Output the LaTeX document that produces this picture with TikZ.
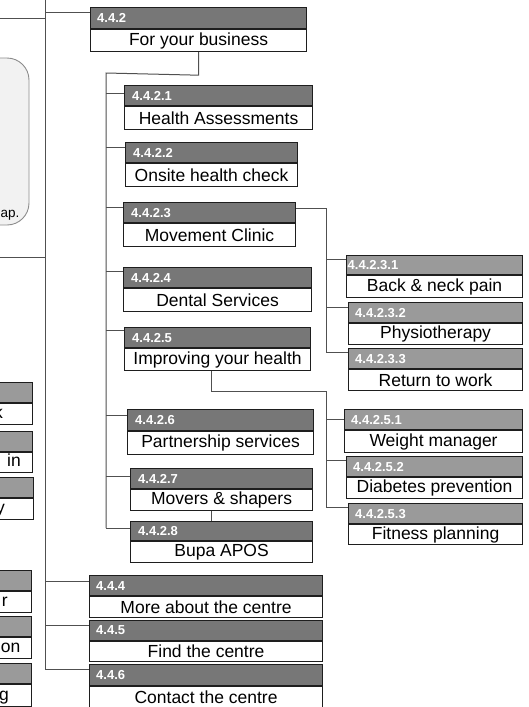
\documentclass[tikz,border=0pt]{standalone}
\usepackage{fontspec}
\setmainfont{Liberation Sans}
\definecolor{hdrA}{HTML}{777777}
\definecolor{hdrB}{HTML}{9A9A9A}
\definecolor{lnc}{HTML}{505050}
\definecolor{bdc}{HTML}{1E1E1E}
\definecolor{notefill}{HTML}{F2F2F2}
\definecolor{notedraw}{HTML}{8C8C8C}
\newcommand\tbox[9]{%
  \node[hdr, fill=#8, minimum width=#3pt, minimum height=#4pt] (#1h) at #2 {};
  \node[lbl] (#1l) at ([xshift=#9pt]#1h.west) {#6};
  \node[body, minimum width=#3pt, minimum height=#5pt] (#1) at (#1h.south west) {#7};
}
\begin{document}
\begin{tikzpicture}[x=1pt,y=-1pt,
  hdr/.style={draw=bdc, line width=1.1pt, inner sep=0pt, anchor=north west},
  body/.style={draw=bdc, fill=white, line width=1.1pt, inner sep=0pt, anchor=north west,
    font=\fontsize{17.5}{18}\selectfont},
  lbl/.style={text=white, font=\bfseries\fontsize{13}{13}\selectfont, anchor=west, inner sep=0pt},
  frag/.style={font=\fontsize{17.5}{18}\selectfont, anchor=base east, inner sep=0pt},
  conn/.style={draw=lnc, line width=1pt}]
\useasboundingbox (0,0) rectangle (528,707);
\clip (0,0) rectangle (528,707);

% ---------- left, cut-off part ----------
\draw[draw=notedraw, fill=notefill, rounded corners=22pt, line width=0.9pt] (-200,58) rectangle (29,225);
\node[font=\fontsize{13.5}{14}\selectfont, anchor=base east, inner sep=0pt] (noteTxt) at (19.5,217) {ap.};

\coordinate (trunk) at (45,0);
\coordinate (trunkEnd) at (45,669);
\coordinate (lA) at (0,18);
\coordinate (lB) at (0,257);
\draw[conn] (lA) -- (lA -| trunk);
\draw[conn] (lB) -- (lB -| trunk);
\draw[conn] (trunk) -- (trunkEnd);

\tbox{L1}{(-200,382)}{232}{20}{21}{}{}{hdrB}{6}
\tbox{L2}{(-200,431)}{232}{20}{20}{}{}{hdrB}{6}
\tbox{L3}{(-200,477)}{233}{20}{21}{}{}{hdrB}{6}
\tbox{L4}{(-200,570)}{231}{20}{21}{}{}{hdrB}{6}
\tbox{L5}{(-200,616)}{231}{20}{21}{}{}{hdrB}{6}
\tbox{L6}{(-200,663)}{231}{20}{22}{}{}{hdrB}{6}
\node[frag] (f1) at (3,418) {k};
\node[frag] (f2) at (21,466) {in};
\node[frag] (f3) at (5,513) {y};
\node[frag] (f4) at (8,606) {r};
\node[frag] (f5) at (20.5,652) {on};
\node[frag] (f6) at (9,700) {g};

% ---------- level 3 ----------
\tbox{n442}{(90,7)}{216}{21}{22}{4.4.2}{For your business}{hdrA}{7}
\tbox{n444}{(89,575)}{233}{20}{21}{4.4.4}{More about the centre}{hdrA}{7}
\tbox{n445}{(89,620)}{233}{20}{20}{4.4.5}{Find the centre}{hdrA}{7}
\tbox{n446}{(89,664)}{233}{21}{21}{4.4.6}{Contact the centre}{hdrA}{7}

\coordinate (c442) at ([yshift=-5pt]n442h.north west);
\coordinate (c444) at ([yshift=-6pt]n444h.north west);
\coordinate (c445) at ([yshift=-5pt]n445h.north west);
\coordinate (c446) at ([yshift=-5pt]n446h.north west);
\draw[conn] (c442) -- (c442 -| trunk);
\draw[conn] (c444) -- (c444 -| trunk);
\draw[conn] (c445) -- (c445 -| trunk);
\draw[conn] (c446) -- (c446 -| trunk);

% ---------- level 4 ----------
\tbox{n4421}{(124,85)}{188}{20}{23}{4.4.2.1}{Health Assessments}{hdrA}{8}
\tbox{n4422}{(125,142)}{172}{20}{23}{4.4.2.2}{Onsite health check}{hdrA}{8}
\tbox{n4423}{(123,202)}{172}{20}{23}{4.4.2.3}{Movement Clinic}{hdrA}{8}
\tbox{n4424}{(123,267)}{188}{20}{23}{4.4.2.4}{Dental Services}{hdrA}{8}
\tbox{n4425}{(124,327)}{186}{20}{22}{4.4.2.5}{Improving your health}{hdrA}{8}
\tbox{n4426}{(127,409)}{186}{21}{23}{4.4.2.6}{Partnership services}{hdrA}{8}
\tbox{n4427}{(130,468)}{182}{20}{21}{4.4.2.7}{Movers \& shapers}{hdrA}{8}
\tbox{n4428}{(130,521)}{182}{19}{21}{4.4.2.8}{Bupa APOS}{hdrA}{8}

\coordinate (sA1) at ([yshift=-23pt]n442.south);
\coordinate (sA2) at (106,73);
\coordinate (sA3) at (106,528);
\draw[conn] (n442.south) -- (sA1) -- (sA2) -- (sA3);
\coordinate (c4421) at ([yshift=-8pt]n4421h.north west);
\coordinate (c4422) at ([yshift=-5pt]n4422h.north west);
\coordinate (c4423) at ([yshift=-5pt]n4423h.north west);
\coordinate (c4424) at ([yshift=-4pt]n4424h.north west);
\coordinate (c4425) at ([yshift=-3pt]n4425h.north west);
\coordinate (c4426) at ([yshift=-6pt]n4426h.north west);
\coordinate (c4427) at ([yshift=-8pt]n4427h.north west);
\coordinate (c4428) at ([yshift=-7pt]n4428h.north west);
\foreach \c in {c4421,c4422,c4423,c4424,c4425,c4426,c4427,c4428}
  \draw[conn] (\c) -- (\c -| sA2);

\coordinate (xC) at (211,0);
\draw[conn] (n4427.south -| xC) -- (n4428h.north -| xC);

% ---------- level 5 ----------
\tbox{n44231}{(346,255)}{176}{19}{22}{4.4.2.3.1}{Back \& neck pain}{hdrB}{1.5}
\tbox{n44232}{(348,302)}{174}{20}{21}{4.4.2.3.2}{Physiotherapy}{hdrB}{7}
\tbox{n44233}{(348,348)}{174}{20}{21}{4.4.2.3.3}{Return to work}{hdrB}{7}
\tbox{n44251}{(344,409)}{178}{20}{22}{4.4.2.5.1}{Weight manager}{hdrB}{7}
\tbox{n44252}{(346,456)}{176}{20}{21}{4.4.2.5.2}{Diabetes prevention}{hdrB}{7}
\tbox{n44253}{(348,503)}{174}{20}{20}{4.4.2.5.3}{Fitness planning}{hdrB}{7}

\coordinate (xB) at (326,0);
\coordinate (cB0) at ([yshift=-6pt]n4423h.north east);
\coordinate (cB2) at (326,352);
\draw[conn] (cB0) -- (cB0 -| xB) -- (cB2);
\coordinate (c44231) at ([yshift=-4pt]n44231h.north west);
\coordinate (c44232) at ([yshift=-5pt]n44232h.north west);
\coordinate (c44233) at ([yshift=-4pt]n44233h.north west);
\foreach \c in {c44231,c44232,c44233}
  \draw[conn] (\c) -- (\c -| xB);

\coordinate (cC1) at (211,391);
\coordinate (cC2) at (326,391);
\coordinate (cC3) at (326,507);
\draw[conn] (n4425.south -| xC) -- (cC1) -- (cC2) -- (cC3);
\coordinate (c44251) at ([yshift=-10pt]n44251h.north west);
\coordinate (c44252) at ([yshift=-4pt]n44252h.north west);
\coordinate (c44253) at ([yshift=-4pt]n44253h.north west);
\foreach \c in {c44251,c44252,c44253}
  \draw[conn] (\c) -- (\c -| xB);
\end{tikzpicture}
\end{document}
